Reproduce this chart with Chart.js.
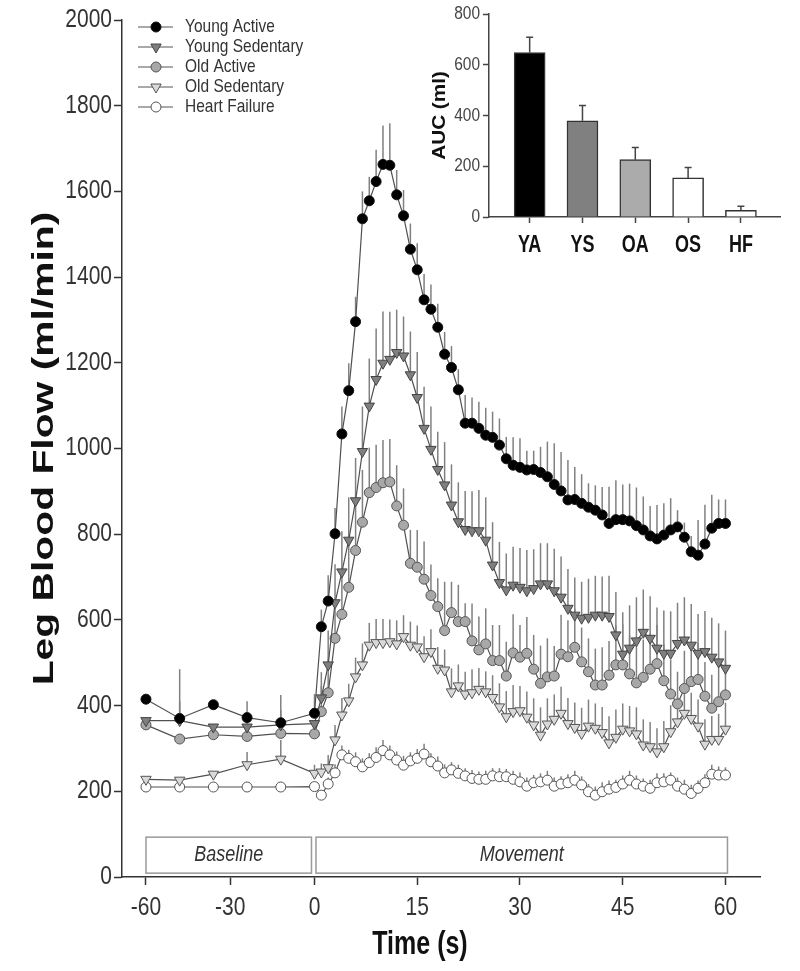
<!DOCTYPE html>
<html>
<head>
<meta charset="utf-8">
<script src="https://cdn.jsdelivr.net/npm/chart.js@4.4.1/dist/chart.umd.min.js"></script>
<style>
body { margin: 0; background: #fff; }
#wrap { position: relative; width: 800px; height: 971px; }
#main { position: absolute; left: 0; top: 0; }
#inset { position: absolute; left: 400px; top: 0; }
</style>
</head>
<body>
<div id="wrap">
<canvas id="main" width="800" height="971"></canvas>
<canvas id="inset" width="400" height="265"></canvas>
</div>
<script>
// time points (s)
var baseTimes = [-60, -48, -36, -24, -12, 0];
var moveTimes = [];
for (var t = 1; t <= 60; t++) moveTimes.push(t);
var tickTimes = [-60, -30, 0, 15, 30, 45, 60];
var yTicks = [0, 200, 400, 600, 800, 1000, 1200, 1400, 1600, 1800, 2000];

var seriesNames = ['Young Active', 'Young Sedentary', 'Old Active', 'Old Sedentary', 'Heart Failure'];

// leg blood flow (ml/min)
var yaBase = [415, 370, 402, 372, 360, 382];
var yaMove = [584,644,801,1034,1135,1296,1536,1578,1623,1663,1661,1592,1543,1465,1417,1347,1325,1283,1220,1189,
  1137,1059,1059,1047,1031,1026,1008,976,961,956,950,951,944,934,916,901,880,881,872,863,
  856,845,825,834,834,831,820,810,796,789,798,810,817,793,759,751,777,814,825,825];
var ysBase = [365, 365, 350, 350, 355, 358];
var ysMove = [418,495,640,712,786,878,993,1099,1161,1199,1208,1224,1216,1172,1119,1047,998,951,915,868,
  829,811,808,808,786,728,687,670,681,676,668,673,684,684,668,653,627,611,604,606,
  611,611,608,565,520,534,551,571,557,534,522,522,545,553,541,522,526,513,502,487];
var oaBase = [355, 322, 332, 328, 335, 334];
var oaMove = [386,430,557,613,676,762,828,897,909,920,922,866,821,732,723,695,657,631,575,617,
  596,596,551,530,544,505,505,469,523,513,522,485,452,467,469,520,514,536,502,479,
  448,448,471,495,495,474,453,466,485,498,458,427,404,440,456,461,422,394,409,425];
var osBase = [228, 226, 240, 262, 275, 242];
var osMove = [245,255,320,378,411,467,495,541,547,547,549,544,561,541,537,514,526,487,483,432,
  446,427,430,438,432,419,397,374,386,388,373,355,331,357,368,382,358,349,335,352,
  347,337,313,326,345,341,334,308,304,292,304,339,362,382,370,352,310,321,321,345];
var hfBase = [210, 210, 210, 210, 210, 211];
var hfMove = [191,217,243,285,277,269,257,267,279,295,285,273,261,271,277,287,269,259,243,250,
  242,236,230,228,228,236,234,234,228,222,212,220,222,226,212,217,220,226,215,199,
  191,199,205,209,217,226,217,212,207,220,222,226,212,205,195,207,220,240,238,238];

// SEM (upper bars only)
var yaBaseErr = [0, 40, 0, 0, 30, 45];
var yaMoveErr = [40,60,60,64,64,58,64,56,74,91,98,58,60,60,62,60,58,55,52,50,
  48,66,60,62,64,60,62,51,65,68,45,44,60,82,96,91,93,76,68,56,
  58,65,86,92,82,87,89,78,70,79,74,74,39,34,37,82,92,78,56,56];
var ysBaseErr = [0, 120, 0, 60, 70, 0];
var ysMoveErr = [60,80,90,95,100,100,105,111,119,121,111,100,92,101,106,97,100,88,100,95,
  92,90,92,95,100,100,95,85,90,92,95,92,95,95,98,95,92,88,85,90,
  92,90,95,100,98,100,102,100,98,95,100,98,95,100,96,92,95,92,90,88];
var oaBaseErr = [0, 0, 0, 0, 0, 0];
var oaMoveErr = [60,80,70,103,107,103,122,105,100,100,100,95,86,78,87,88,72,66,114,72,
  86,43,87,78,83,83,83,80,90,75,85,80,88,90,70,92,85,90,80,78,
  85,88,80,92,95,90,85,88,82,90,85,80,75,88,92,85,80,78,85,82];
var osBaseErr = [0, 0, 0, 30, 45, 20];
var osMoveErr = [20,30,35,40,40,45,50,52,55,55,52,55,50,55,50,48,52,50,48,55,
  50,52,55,50,48,52,55,60,62,58,60,62,65,60,58,62,60,58,60,62,
  58,60,62,65,60,58,62,60,58,55,60,62,58,55,60,62,58,55,60,62];
var hfBaseErr = [0, 0, 0, 0, 0, 0];
var hfMoveErr = [10,15,20,22,20,22,20,22,24,25,22,20,22,20,22,24,20,22,20,18,
  20,18,20,18,20,18,20,18,20,22,20,18,20,22,20,18,20,22,20,18,
  20,22,20,18,20,22,20,18,20,22,20,18,20,22,20,18,20,22,20,18];

// phases drawn as boxes along the bottom
var phaseNames = ['Baseline', 'Movement'];
var phaseStart = [-60, 0];
var phaseEnd = [0, 60];

// inset: area under curve
var aucCats = ['YA', 'YS', 'OA', 'OS', 'HF'];
var aucValues = [648, 379, 226, 154, 26];
var aucErr = [60, 60, 48, 41, 16];
var aucTicks = [0, 200, 400, 600, 800];

// baseline segment of the time axis is squeezed
var BASE_SQUEEZE = 0.41;
function axisPos(t) { return t < 0 ? t * BASE_SQUEEZE : t; }

var styles = [
  { fill: '#000000', border: '#111111', shape: 'circle', r: 5, rot: 0 },
  { fill: '#7f7f7f', border: '#444444', shape: 'triangle', r: 6, rot: 180 },
  { fill: '#a8a8a8', border: '#555555', shape: 'circle', r: 5, rot: 0 },
  { fill: '#d9d9d9', border: '#555555', shape: 'triangle', r: 6, rot: 180 },
  { fill: '#ffffff', border: '#555555', shape: 'circle', r: 5, rot: 0 }
];

var allTimes = baseTimes.concat(moveTimes);
var values = [yaBase.concat(yaMove), ysBase.concat(ysMove), oaBase.concat(oaMove), osBase.concat(osMove), hfBase.concat(hfMove)];
var errs = [yaBaseErr.concat(yaMoveErr), ysBaseErr.concat(ysMoveErr), oaBaseErr.concat(oaMoveErr), osBaseErr.concat(osMoveErr), hfBaseErr.concat(hfMoveErr)];

function stext(ctx, s, x, y, font, align, sy, rot, color) {
  ctx.save();
  ctx.translate(x, y);
  if (rot) { ctx.rotate(-Math.PI / 2); ctx.scale(sy, 1); }
  else ctx.scale(1, sy);
  ctx.font = font;
  ctx.fillStyle = color || '#222';
  ctx.textAlign = align;
  ctx.textBaseline = 'middle';
  ctx.fillText(s, 0, 0);
  ctx.restore();
}

function errPlugin(capW, color) {
  return {
    id: 'errbars',
    beforeDatasetsDraw: function(chart) {
      var ctx = chart.ctx, ys = chart.scales.y;
      ctx.save();
      ctx.strokeStyle = color;
      ctx.lineWidth = 1.5;
      for (var i = chart.data.datasets.length - 1; i >= 0; i--) {
        var ds = chart.data.datasets[i];
        var meta = chart.getDatasetMeta(i);
        for (var j = 0; j < ds.data.length; j++) {
          var e = ds.errs[j];
          if (!e) continue;
          var x = meta.data[j].x;
          var y1 = ys.getPixelForValue(ds.data[j].y);
          var y2 = ys.getPixelForValue(ds.data[j].y + e);
          ctx.beginPath();
          ctx.moveTo(x, y1);
          ctx.lineTo(x, y2);
          if (capW) { ctx.moveTo(x - capW / 2, y2); ctx.lineTo(x + capW / 2, y2); }
          ctx.stroke();
        }
      }
      ctx.restore();
    }
  };
}

var mainText = {
  id: 'mainText',
  afterDraw: function(chart) {
    var ctx = chart.ctx, xs = chart.scales.x, ys = chart.scales.y;
    var tickFont = '21px "Liberation Sans", Arial, sans-serif';
    yTicks.forEach(function(v) {
      stext(ctx, String(v), 112, ys.getPixelForValue(v), tickFont, 'right', 1.2, false, '#333');
    });
    tickTimes.forEach(function(t) {
      stext(ctx, String(t), xs.getPixelForValue(axisPos(t)), 908, tickFont, 'center', 1.2, false, '#333');
    });
    stext(ctx, 'Time (s)', 420, 945, 'bold 25px "Liberation Sans", Arial, sans-serif', 'center', 1.36, false, '#111');
    stext(ctx, 'Leg Blood Flow (ml/min)', 45, (chart.chartArea.top + chart.chartArea.bottom) / 2,
      'bold 30px "Liberation Sans", Arial, sans-serif', 'center', 1.36, true, '#111');

    // phase boxes
    ctx.save();
    ctx.strokeStyle = '#9a9a9a';
    ctx.lineWidth = 1.5;
    for (var i = 0; i < phaseNames.length; i++) {
      var x1 = xs.getPixelForValue(axisPos(phaseStart[i])) + (i === 0 ? 0 : 1.5);
      var x2 = xs.getPixelForValue(axisPos(phaseEnd[i])) - (i === 0 ? 3 : -2);
      var y1 = ys.getPixelForValue(93), y2 = ys.getPixelForValue(9);
      ctx.strokeRect(x1, y1, x2 - x1, y2 - y1);
      stext(ctx, phaseNames[i], (x1 + x2) / 2, (y1 + y2) / 2, 'italic 18px "Liberation Sans", Arial, sans-serif', 'center', 1.2, false, '#333');
    }
    ctx.restore();

    // legend
    var rows = [27, 47, 67, 87, 107];
    for (var k = 0; k < seriesNames.length; k++) {
      var st = styles[k], ly = rows[k];
      ctx.save();
      ctx.strokeStyle = '#555';
      ctx.lineWidth = 1.2;
      ctx.beginPath();
      ctx.moveTo(138, ly);
      ctx.lineTo(173, ly);
      ctx.stroke();
      ctx.fillStyle = st.fill;
      ctx.strokeStyle = st.border;
      ctx.lineWidth = 1;
      Chart.helpers.drawPoint(ctx, { pointStyle: st.shape, rotation: st.rot, radius: st.r, borderWidth: 1 }, 156, ly);
      ctx.restore();
      stext(ctx, seriesNames[k], 185, ly, '15.5px "Liberation Sans", Arial, sans-serif', 'left', 1.2, false, '#333');
    }
  }
};

var datasets = values.map(function(vals, i) {
  var st = styles[i];
  return {
    label: seriesNames[i],
    data: vals.map(function(v, j) { return { x: axisPos(allTimes[j]), y: v }; }),
    errs: errs[i],
    borderColor: '#505050',
    borderWidth: 1.2,
    pointStyle: st.shape,
    rotation: st.rot,
    pointRadius: st.r,
    pointBackgroundColor: st.fill,
    pointBorderColor: st.border,
    pointBorderWidth: 1,
    tension: 0,
    fill: false
  };
});

var axisLine = { color: '#333', width: 1.5 };
var tickGrid = { drawOnChartArea: false, drawTicks: true, tickLength: 8, tickColor: '#333', tickWidth: 1.5 };

new Chart(document.getElementById('main'), {
  type: 'line',
  data: { datasets: datasets },
  options: {
    responsive: false,
    animation: false,
    devicePixelRatio: 1,
    layout: { padding: { top: 20, right: 40, left: 0, bottom: 0 } },
    plugins: { legend: { display: false }, tooltip: { enabled: false } },
    scales: {
      x: {
        type: 'linear', min: -28.1, max: 65.04,
        afterBuildTicks: function(s) { s.ticks = tickTimes.map(function(t) { return { value: axisPos(t) }; }); },
        afterFit: function(s) { s.height = 94; },
        ticks: { display: false },
        grid: tickGrid,
        border: axisLine
      },
      y: {
        min: 0, max: 2000,
        afterBuildTicks: function(s) { s.ticks = yTicks.map(function(v) { return { value: v }; }); },
        afterFit: function(s) { s.width = 122; },
        ticks: { display: false },
        grid: tickGrid,
        border: axisLine
      }
    }
  },
  plugins: [errPlugin(0, '#808080'), mainText]
});

var insetText = {
  id: 'insetText',
  afterDraw: function(chart) {
    var ctx = chart.ctx, xs = chart.scales.x, ys = chart.scales.y;
    aucTicks.forEach(function(v) {
      stext(ctx, String(v), 80, ys.getPixelForValue(v), '15.5px "Liberation Sans", Arial, sans-serif', 'right', 1.2, false, '#444');
    });
    aucCats.forEach(function(c, i) {
      stext(ctx, c, xs.getPixelForValue(i + 1), 245, 'bold 18px "Liberation Sans", Arial, sans-serif', 'center', 1.36, false, '#111');
    });
    stext(ctx, 'AUC (ml)', 40, (chart.chartArea.top + chart.chartArea.bottom) / 2,
      'bold 18px "Liberation Sans", Arial, sans-serif', 'center', 1.15, true, '#111');
  }
};

var insetGrid = { drawOnChartArea: false, drawTicks: true, tickLength: 6, tickColor: '#444', tickWidth: 1.5, offset: false };

new Chart(document.getElementById('inset'), {
  type: 'bar',
  data: {
    datasets: [{
      data: aucCats.map(function(c, i) { return { x: i + 1, y: aucValues[i] }; }),
      errs: aucErr,
      backgroundColor: ['#000000', '#808080', '#ababab', '#ffffff', '#ffffff'],
      borderColor: '#333333',
      borderWidth: 1.5,
      barThickness: 31
    }]
  },
  options: {
    responsive: false,
    animation: false,
    devicePixelRatio: 1,
    layout: { padding: { top: 14, right: 20, left: 0, bottom: 0 } },
    plugins: { legend: { display: false }, tooltip: { enabled: false } },
    scales: {
      x: {
        type: 'linear', min: 0.23, max: 5.74, offset: false,
        afterBuildTicks: function(s) { s.ticks = aucCats.map(function(c, i) { return { value: i + 1 }; }); },
        afterFit: function(s) { s.height = 48; },
        ticks: { display: false },
        grid: insetGrid,
        border: { color: '#444', width: 1.5 }
      },
      y: {
        min: 0, max: 800,
        afterBuildTicks: function(s) { s.ticks = aucTicks.map(function(v) { return { value: v }; }); },
        afterFit: function(s) { s.width = 89; },
        ticks: { display: false },
        grid: insetGrid,
        border: { color: '#444', width: 1.5 }
      }
    }
  },
  plugins: [errPlugin(7, '#444444'), insetText]
});
</script>
</body>
</html>
